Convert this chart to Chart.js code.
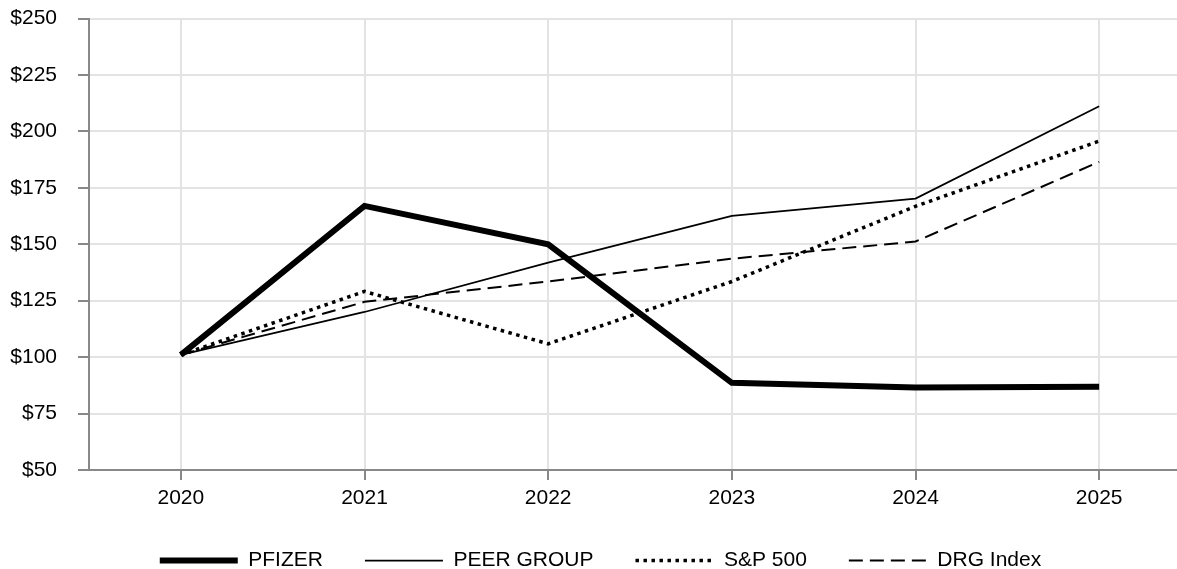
<!DOCTYPE html>
<html>
<head>
<meta charset="utf-8">
<title>Stock performance</title>
<script src="https://cdn.jsdelivr.net/npm/chart.js@4.4.1/dist/chart.umd.min.js"></script>
<style>
  html, body { margin: 0; padding: 0; background: #fff; overflow: hidden; }
  #wrap { width: 1191px; height: 569px; }
</style>
</head>
<body>
<div id="wrap"><canvas id="mycanvas"></canvas></div>
<script>
var years = ['2020', '2021', '2022', '2023', '2024', '2025'];
var pfizer = [101, 167, 150, 88.6, 86.5, 86.9];
var peerGroup = [101, 120, 141.9, 162.6, 170.2, 211.1];
var sp500 = [101, 129.1, 105.9, 133.5, 166.8, 195.7];
var drgIndex = [101, 124.5, 133.5, 143.6, 151.2, 186.5];
var yTicks = [50, 75, 100, 125, 150, 175, 200, 225, 250];

var font = 'Arial, "Liberation Sans", sans-serif';

var chartdata = {
	labels: years,
	datasets: [
		{
			label: 'PFIZER',
			data: pfizer,
			borderColor: '#000',
			backgroundColor: '#000',
			borderWidth: 6
		},
		{
			label: 'PEER GROUP',
			data: peerGroup,
			borderColor: '#000',
			backgroundColor: '#000',
			borderWidth: 1.75
		},
		{
			label: 'S&P 500',
			data: sp500,
			borderColor: '#000',
			backgroundColor: '#000',
			borderWidth: 3.5,
			borderDash: [3.5, 4.5]
		},
		{
			label: 'DRG Index',
			data: drgIndex,
			borderColor: '#000',
			backgroundColor: '#000',
			borderWidth: 2,
			borderDash: [14, 7]
		}
	]
};

var ctx = document.getElementById('mycanvas');

var lineGraph = new Chart(ctx, {
	type: 'line',
	data: chartdata,
	options: {
		responsive: true,
		maintainAspectRatio: false,
		animation: false,
		elements: {
			point: { radius: 0, hoverRadius: 0, pointStyle: 'line' },
			line: { tension: 0, borderCapStyle: 'butt' }
		},
		layout: { padding: { top: 18.5, left: 10, right: 0, bottom: 0 } },
		plugins: {
			tooltip: { enabled: false },
			legend: {
				position: 'bottom',
				maxHeight: 61,
				labels: {
					usePointStyle: true,
					pointStyle: 'line',
					pointStyleWidth: 78,
					padding: 42,
					color: '#000',
					font: { family: font, size: 21 },
					// point style legend loses the dash, put it back
					generateLabels: function(chart) {
						var items = Chart.defaults.plugins.legend.labels.generateLabels(chart);
						items.forEach(function(item) {
							item.lineDash = chart.data.datasets[item.datasetIndex].borderDash || [];
						});
						return items;
					}
				}
			}
		},
		scales: {
			x: {
				offset: true,
				afterFit: function(axis) { axis.height = 38; },
				grid: {
					color: '#e3e3e3',
					lineWidth: 2,
					tickColor: '#888',
					tickWidth: 2,
					tickLength: 10
				},
				border: { color: '#888', width: 2 },
				ticks: {
					color: '#000',
					padding: 6,
					font: { family: font, size: 21 }
				}
			},
			y: {
				min: 50,
				max: 250,
				afterFit: function(axis) {
					axis.width = 79;
					axis.paddingTop = 0;
					axis.paddingBottom = 0;
				},
				afterBuildTicks: function(axis) {
					axis.ticks = yTicks.map(function(v) { return { value: v }; });
				},
				grid: {
					color: '#e3e3e3',
					lineWidth: 2,
					tickColor: '#888',
					tickWidth: 2,
					tickLength: 11
				},
				border: { color: '#888', width: 2 },
				ticks: {
					color: '#000',
					padding: 21,
					font: { family: font, size: 21 },
					callback: function(value) { return '$' + value; }
				}
			}
		}
	}
});
</script>
</body>
</html>
